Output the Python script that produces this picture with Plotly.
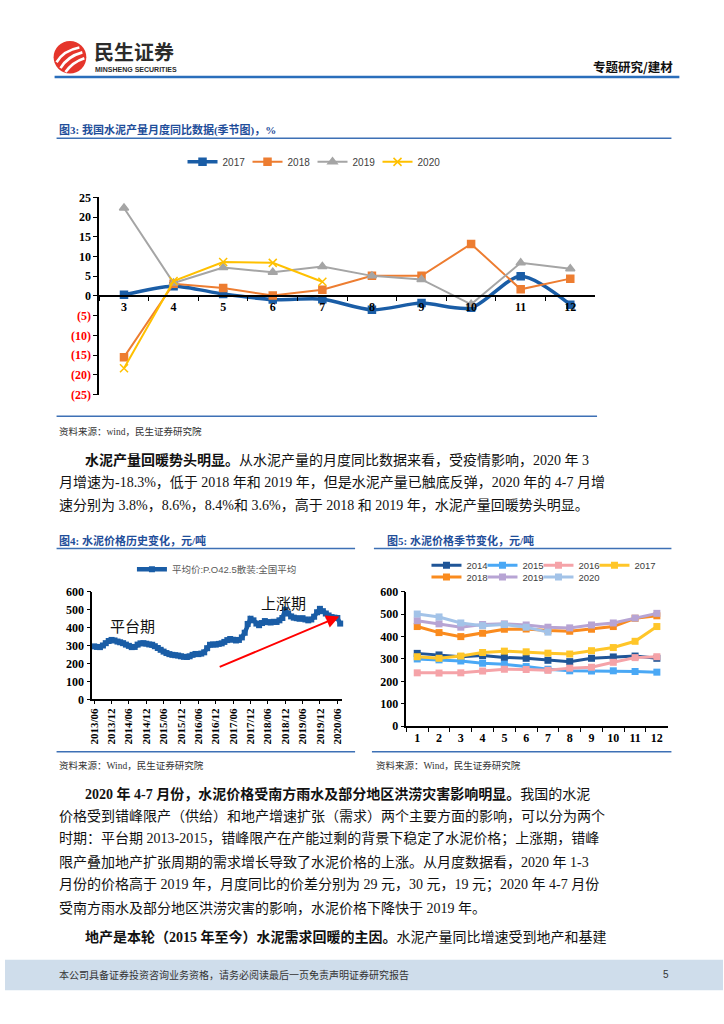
import plotly.graph_objects as go
import pandas as pd

W, H = 724, 1024


def X(px):
    return px / W


def Y(py):
    return 1 - py / H


# ---------------- Chart 3 data: cement output YoY (%) by month ----------------
months3 = ['3', '4', '5', '6', '7', '8', '9', '10', '11', '12']
yoy2017 = [0.3, 2.5, 0.5, -0.9, -0.8, -3.5, -1.8, -3.0, 5.0, -2.2]
yoy2018 = [-15.5, 3.1, 2.0, 0.1, 1.6, 5.1, 5.1, 13.2, 1.7, 4.4]
yoy2019 = [22.3, 3.3, 7.2, 6.0, 7.5, 5.1, 4.2, -2.1, 8.4, 6.9]
yoy2020 = [-18.3, 3.8, 8.6, 8.4, 3.6]
ticks3 = [-25, -20, -15, -10, -5, 0, 5, 10, 15, 20, 25]
ticktext3 = ['(25)', '(20)', '(15)', '(10)', '(5)', '0', '5', '10', '15', '20', '25']

# ---------------- Chart 4 data: national average price (yuan/t) ----------------
price_start = '2013-06-01'
avg_price = [
    295, 292, 291, 300, 313, 325, 331,                          # 2013/06-12
    328, 322, 318, 313, 305, 298, 291, 292, 305, 312, 313, 310,  # 2014
    306, 304, 296, 286, 276, 266, 258, 252, 248, 246, 244, 240,  # 2015
    237, 236, 240, 248, 253, 252, 255, 262, 285, 304, 306, 305,  # 2016
    309, 312, 320, 330, 336, 332, 328, 331, 345, 371, 420, 449,  # 2017
    440, 422, 413, 425, 436, 430, 428, 432, 431, 440, 453, 498,  # 2018
    478, 462, 455, 452, 449, 452, 445, 440, 445, 460, 485, 504,  # 2019
    491, 478, 467, 458, 455, 453, 422,                          # 2020/01-07
]
price_months = pd.date_range(price_start, periods=len(avg_price), freq='MS')
ticklabels4 = ['2013/06', '2013/12', '2014/06', '2014/12', '2015/06', '2015/12',
               '2016/06', '2016/12', '2017/06', '2017/12', '2018/06', '2018/12',
               '2019/06', '2019/12', '2020/06']
tickdates4 = [t.replace('/', '-') + '-01' for t in ticklabels4]

# ---------------- Chart 5 data: seasonal price (yuan/t) ----------------
months5 = ['1', '2', '3', '4', '5', '6', '7', '8', '9', '10', '11', '12']
p2014 = [325, 318, 310, 315, 307, 303, 294, 288, 303, 309, 313, 303]
p2015 = [300, 296, 291, 281, 276, 266, 254, 247, 246, 247, 244, 241]
p2016 = [238, 237, 238, 246, 254, 253, 249, 259, 263, 285, 306, 310]
p2017 = [310, 303, 313, 329, 335, 332, 326, 322, 337, 351, 379, 445]
p2018 = [445, 418, 400, 415, 433, 434, 427, 424, 433, 445, 482, 493]
p2019 = [471, 457, 442, 454, 457, 452, 442, 439, 452, 461, 483, 504]
p2020 = [501, 488, 461, 449, 454, 442, 420]

SERIF = "Liberation Serif, Noto Sans CJK SC"
SANS = "Liberation Sans, Noto Sans CJK SC"
CJK = "Noto Sans CJK SC"
axis_font = dict(family="Liberation Serif", size=12, color="black", weight="bold")

fig = go.Figure()

# ---- chart 3 traces
c3 = [
    ('2017', yoy2017, '#1A5DA6', 3.5, 'square', 7, 'spline', 20),
    ('2018', yoy2018, '#ED7D31', 2, 'square', 7, 'linear', 20),
    ('2019', yoy2019, '#A5A5A5', 2, 'triangle-up', 8, 'linear', 20),
    ('2020', yoy2020, '#FFC000', 2, 'x-thin-open', 8, 'linear', 26),
]
for name, vals, col, lw, sym, ms, shp, lgw in c3:
    fig.add_trace(go.Scatter(
        x=months3[:len(vals)], y=vals, name=name, mode='lines+markers',
        line=dict(color=col, width=lw, shape=shp, smoothing=0.8),
        marker=dict(symbol=sym, size=ms, color=col, line=dict(color=col, width=1.5)),
        xaxis='x', yaxis='y', legend='legend', legendwidth=lgw, cliponaxis=False))

# ---- chart 4 trace
fig.add_trace(go.Scatter(
    x=price_months, y=avg_price, name='平均价:P.O42.5散装:全国平均',
    mode='lines+markers', line=dict(color='#1A5DA6', width=4.5),
    marker=dict(symbol='square', size=6, color='#1A5DA6'),
    xaxis='x2', yaxis='y2', legend='legend2', cliponaxis=False))

# ---- chart 5 traces
c5 = [
    ('2014', p2014, '#1F5597', 'legend3', 11),
    ('2015', p2015, '#4AA8F5', 'legend3', 11),
    ('2016', p2016, '#F5A3A8', 'legend3', 11),
    ('2017', p2017, '#FFC629', 'legend3', 26),
    ('2018', p2018, '#FA8B1E', 'legend4', 11),
    ('2019', p2019, '#B7A4D4', 'legend4', 11),
    ('2020', p2020, '#A3C3E8', 'legend4', 26),
]
for name, vals, col, lg, lgw in c5:
    fig.add_trace(go.Scatter(
        x=months5[:len(vals)], y=vals, name=name, mode='lines+markers',
        line=dict(color=col, width=3),
        marker=dict(symbol='square', size=7, color=col),
        xaxis='x3', yaxis='y3', legend=lg, legendwidth=lgw, cliponaxis=False))

common_axis = dict(showline=True, linecolor='black', linewidth=1.5, ticks='outside',
                   tickcolor='black', tickwidth=1, showgrid=False, zeroline=False,
                   fixedrange=True, tickfont=axis_font)

legend_common = dict(orientation='h', bgcolor='rgba(0,0,0,0)', xanchor='left',
                     yanchor='middle', borderwidth=0, itemclick=False, itemdoubleclick=False)

fig.update_layout(
    width=W, height=H, margin=dict(l=0, r=0, t=0, b=0),
    paper_bgcolor='white', plot_bgcolor='rgba(0,0,0,0)', showlegend=True,
    xaxis=dict(common_axis, domain=[X(95), X(595)], anchor='free', position=Y(293),
               type='category', range=[-0.5, 9.5], tickson='boundaries', ticklen=4),
    yaxis=dict(common_axis, domain=[Y(393), Y(193)], anchor='x', range=[-25, 25],
               tickvals=ticks3,
               ticktext=[("<span style='color:#FF0000'>%s</span>" % t) if v < 0 else t
                         for v, t in zip(ticks3, ticktext3)],
               ticklen=4),
    xaxis2=dict(common_axis, domain=[X(88), X(340)], anchor='y2', type='date',
                range=['2013-05-12', '2020-07-22'], tickvals=tickdates4, ticktext=ticklabels4,
                tickangle=-90, ticklen=3,
                tickfont=dict(family="Liberation Serif", size=11, color="black", weight="bold")),
    yaxis2=dict(common_axis, domain=[Y(702), Y(592.7)], anchor='x2', range=[0, 600],
                dtick=100, ticklen=4),
    xaxis3=dict(common_axis, domain=[X(404.7), X(668.3)], anchor='y3', type='category',
                range=[-0.5, 11.5], tickson='boundaries', ticklen=4),
    yaxis3=dict(common_axis, domain=[Y(729), Y(593)], anchor='x3', range=[0, 600],
                dtick=100, ticklen=4),
    legend=dict(legend_common, x=X(179), y=Y(157),
                font=dict(family=SANS, size=10, color='#404040')),
    legend2=dict(legend_common, x=X(128), y=Y(570),
                 font=dict(family=SANS, size=9.5, color='#595959')),
    legend3=dict(legend_common, x=X(425), y=Y(566),
                 font=dict(family=SANS, size=9.5, color='#404040')),
    legend4=dict(legend_common, x=X(425), y=Y(578),
                 font=dict(family=SANS, size=9.5, color='#404040')),
)

# ---------------- decorations ----------------
shapes = []


def hline(x0, x1, y, color, width):
    shapes.append(dict(type='line', xref='paper', yref='paper', x0=X(x0), x1=X(x1),
                       y0=Y(y), y1=Y(y), line=dict(color=color, width=width)))


hline(50, 680, 71, '#2A6EBB', 2.5)
TITLE_LINE = '#3D70B5'
hline(52, 672, 133, TITLE_LINE, 1.5)
hline(52, 597, 415, TITLE_LINE, 1.5)
hline(52, 353, 549, TITLE_LINE, 1.5)
hline(52, 353, 755, TITLE_LINE, 1.5)
hline(372, 672, 549, TITLE_LINE, 1.5)
hline(370, 672, 755, TITLE_LINE, 1.5)

# footer band
shapes.append(dict(type='rect', xref='paper', yref='paper', x0=0, x1=1, y0=Y(997), y1=Y(966),
                   fillcolor='#CFDDEB', line=dict(width=0), layer='below'))
# logo
shapes.append(dict(type='circle', xref='paper', yref='paper', x0=X(49), x1=X(82),
                   y0=Y(67.5), y1=Y(34.5), fillcolor='#E5352B', line=dict(width=0)))


def qpath(p0, c, p1):
    return "M%.5f,%.5f Q%.5f,%.5f %.5f,%.5f" % (X(p0[0]), Y(p0[1]), X(c[0]), Y(c[1]),
                                               X(p1[0]), Y(p1[1]))


for (p0, c, p1) in [((52, 56), (59, 44), (75, 41)),
                    ((56, 62), (63, 50), (78, 46)),
                    ((61, 66), (68, 56), (80, 52))]:
    shapes.append(dict(type='path', xref='paper', yref='paper', path=qpath(p0, c, p1),
                       line=dict(color='white', width=2.6)))

annotations = []


def ann(text, x, y, size=14, color='#111111', family=SERIF, xanchor='left', bold=False):
    annotations.append(dict(text=text, x=X(x), y=Y(y), xref='paper', yref='paper',
                            showarrow=False, xanchor=xanchor, yanchor='middle',
                            font=dict(size=size, color=color, family=family,
                                      weight='bold' if bold else 'normal')))


# header
ann('民生证券', 88, 45, size=20, color='#2B2B2B', family=CJK, bold=True)
ann('MINSHENG SECURITIES', 89, 63, size=7, color='#2B2B2B', family='Liberation Sans', bold=True)
ann('专题研究/建材', 676, 60, size=12.5, color='#111111', family=CJK, xanchor='right', bold=True)

# titles
TITLE_COL = '#1F4E9A'
ann('图3: 我国水泥产量月度同比数据(季节图)，%', 52, 125, size=11, color=TITLE_COL, bold=True)
ann('图4: 水泥价格历史变化，元/吨', 52, 541, size=11, color=TITLE_COL, bold=True)
ann('图5: 水泥价格季节变化，元/吨', 383, 541, size=11, color=TITLE_COL, bold=True)

# sources
ann('资料来源：wind，民生证券研究院', 52, 430, size=9.5, color='#333333')
ann('资料来源：Wind，民生证券研究院', 52, 769, size=9.5, color='#333333')
ann('资料来源：Wind，民生证券研究院', 372, 769, size=9.5, color='#333333')

# paragraph 1
ann('<b>水泥产量回暖势头明显。</b>从水泥产量的月度同比数据来看，受疫情影响，2020 年 3', 79, 459)
ann('月增速为-18.3%，低于 2018 年和 2019 年，但是水泥产量已触底反弹，2020 年的 4-7 月增', 52, 482)
ann('速分别为 3.8%，8.6%，8.4%和 3.6%，高于 2018 和 2019 年，水泥产量回暖势头明显。', 52, 505)

# paragraph 2
ann('<b>2020 年 4-7 月份，水泥价格受南方雨水及部分地区洪涝灾害影响明显。</b>我国的水泥', 79, 798)
ann('价格受到错峰限产（供给）和地产增速扩张（需求）两个主要方面的影响，可以分为两个', 52, 821)
ann('时期：平台期 2013-2015，错峰限产在产能过剩的背景下稳定了水泥价格；上涨期，错峰', 52, 844)
ann('限产叠加地产扩张周期的需求增长导致了水泥价格的上涨。从月度数据看，2020 年 1-3', 52, 867)
ann('月份的价格高于 2019 年，月度同比的价差分别为 29 元，30 元，19 元；2020 年 4-7 月份', 52, 890)
ann('受南方雨水及部分地区洪涝灾害的影响，水泥价格下降快于 2019 年。', 52, 913)

# paragraph 3
ann('<b>地产是本轮（2015 年至今）水泥需求回暖的主因。</b>水泥产量同比增速受到地产和基建', 79, 943)

# chart 4 labels
ann('平台期', 129, 627, size=15, color='#111111', family=CJK, xanchor='center')
ann('上涨期', 281, 604, size=15, color='#111111', family=CJK, xanchor='center')
annotations.append(dict(text='', x=X(337), y=Y(618), xref='paper', yref='paper',
                        showarrow=True, ax=216 - 337, ay=669 - 618, axref='pixel', ayref='pixel',
                        arrowcolor='#FF0000', arrowwidth=2, arrowhead=2, arrowsize=1.3,
                        standoff=0))

# footer
ann('本公司具备证券投资咨询业务资格，请务必阅读最后一页免责声明证券研究报告', 52, 981,
    size=10, color='#333333', family=CJK)
ann('5', 672, 981, size=10, color='#333333', family='Liberation Sans', xanchor='right')

fig.update_layout(shapes=shapes, annotations=annotations)

fig.write_html("out.html", config={'displayModeBar': False},
               post_script="document.body.style.margin='0px';document.body.style.overflow='hidden';")
